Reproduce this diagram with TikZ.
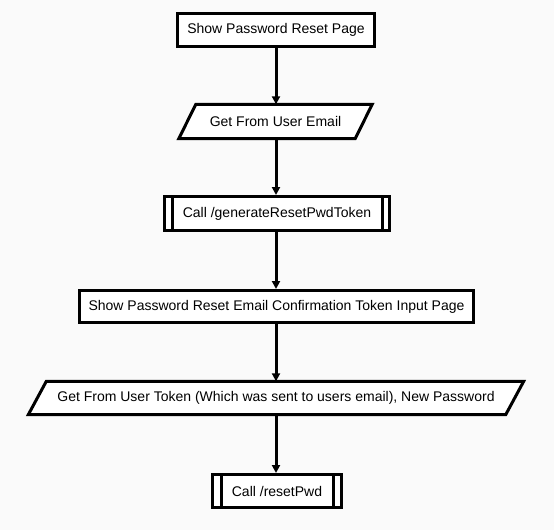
\documentclass[tikz,border=0pt]{standalone}
\usepackage{fontspec}
\setmainfont{Liberation Sans}
\usetikzlibrary{arrows.meta}
\definecolor{bgc}{RGB}{250,250,250}
\tikzset{
  lw/.style={line width=3pt},
  proc/.style={lw, draw=black, fill=white, rectangle, inner sep=0pt, font=\fontsize{14}{16}\selectfont},
  iotext/.style={rectangle, inner sep=0pt, font=\fontsize{14}{16}\selectfont},
  flow/.style={lw, -{Triangle[width=8pt,length=8pt]}},
}
\begin{document}
\begin{tikzpicture}[x=1pt,y=-1pt]
\fill[bgc] (0,0) rectangle (554,530);
\useasboundingbox (0,0) rectangle (554,530);

% nodes
\node[proc, minimum width=197pt, minimum height=33pt] (n1) at (276,30) {Show Password Reset Page};

\node[iotext, minimum width=176pt, minimum height=34pt] (n2) at (275.5,121.5) {};
\draw[lw, fill=white] ([xshift=8.5pt]n2.north west) -- ([xshift=8.5pt]n2.north east)
  -- ([xshift=-8.5pt]n2.south east) -- ([xshift=-8.5pt]n2.south west) -- cycle;
\node[iotext] at (n2) {Get From User Email};

\node[proc, minimum width=225pt, minimum height=34pt] (n3) at (277,213.5) {Call /generateResetPwdToken};
\draw[lw] ([xshift=9.5pt]n3.north west) -- ([xshift=9.5pt]n3.south west);
\draw[lw] ([xshift=-9pt]n3.north east) -- ([xshift=-9pt]n3.south east);

\node[proc, minimum width=394pt, minimum height=32pt] (n4) at (276.5,306.5) {Show Password Reset Email Confirmation Token Input Page};

\node[iotext, minimum width=477pt, minimum height=33pt] (n5) at (276,398) {};
\draw[lw, fill=white] ([xshift=9pt]n5.north west) -- ([xshift=9pt]n5.north east)
  -- ([xshift=-9pt]n5.south east) -- ([xshift=-9pt]n5.south west) -- cycle;
\node[iotext] at (n5) {Get From User Token (Which was sent to users email), New Password};

\node[proc, minimum width=129pt, minimum height=33pt] (n6) at (277,491) {Call /resetPwd};
\draw[lw] ([xshift=10pt]n6.north west) -- ([xshift=10pt]n6.south west);
\draw[lw] ([xshift=-9.5pt]n6.north east) -- ([xshift=-9.5pt]n6.south east);

% connectors
\draw[flow] (n1.south) -- (n1.south |- n2.north);
\draw[flow] (n1.south |- n2.south) -- (n1.south |- n3.north);
\draw[flow] (n1.south |- n3.south) -- (n1.south |- n4.north);
\draw[flow] (n1.south |- n4.south) -- (n1.south |- n5.north);
\draw[flow] (n1.south |- n5.south) -- (n1.south |- n6.north);
\end{tikzpicture}
\end{document}
